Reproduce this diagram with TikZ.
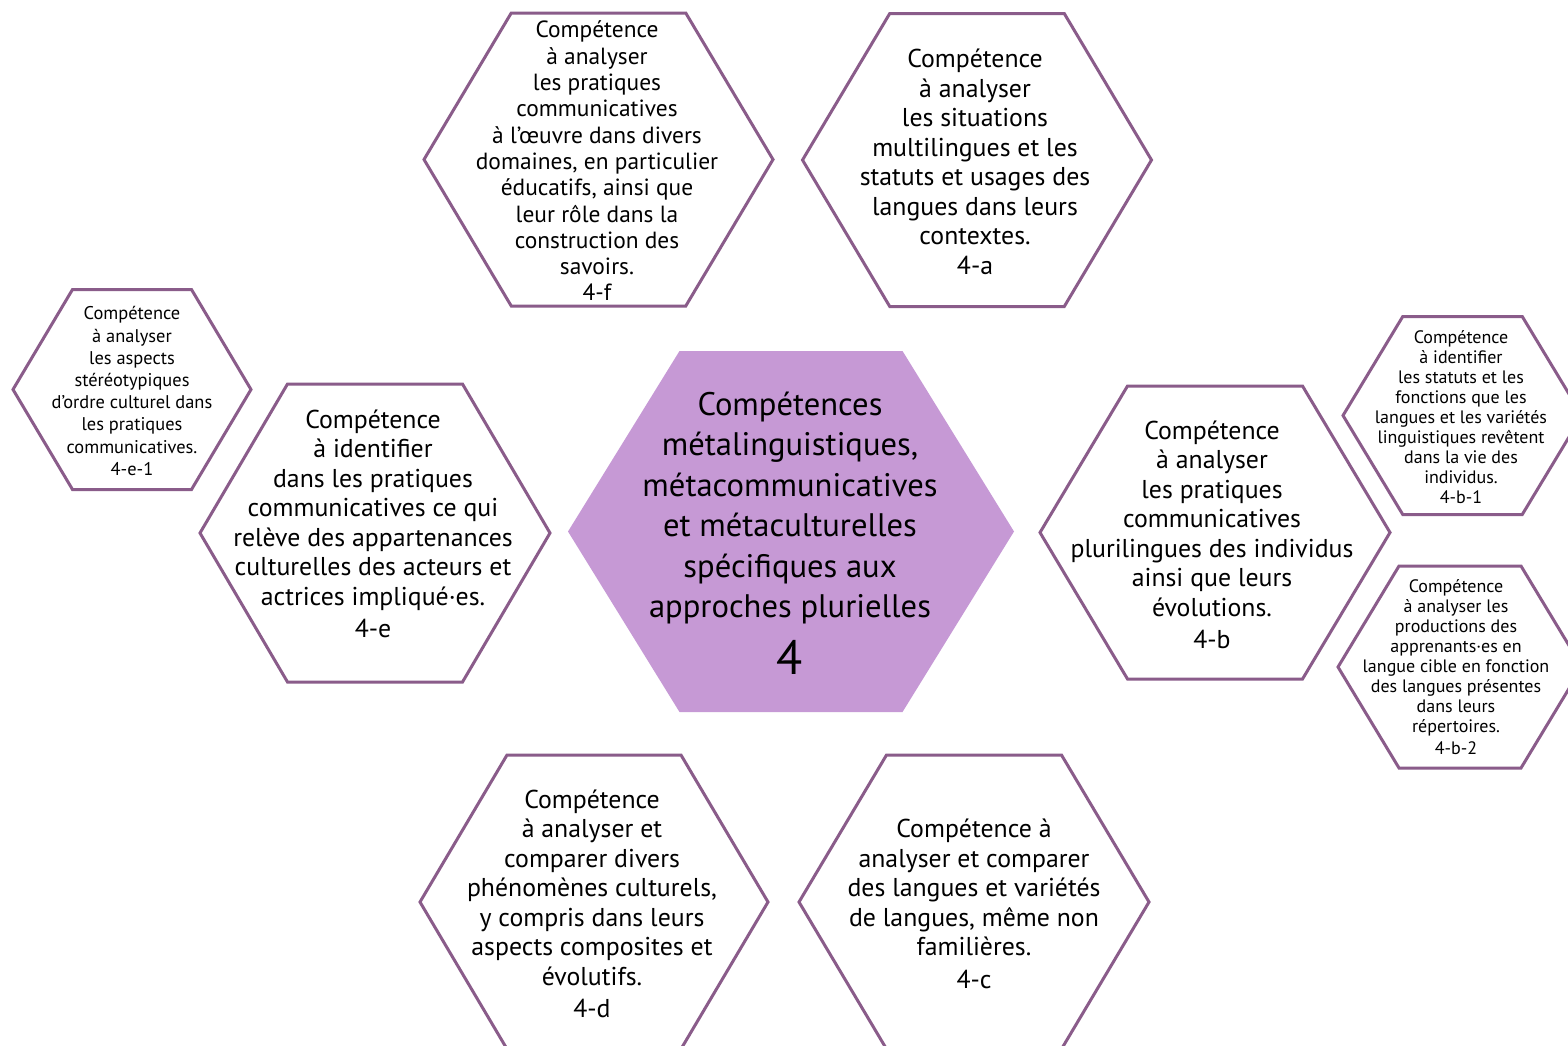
\documentclass[tikz,border=0pt]{standalone}
\usepackage{fontspec}
\setmainfont{PT Sans}
\usetikzlibrary{calc, positioning}

\definecolor{hexpurple}{HTML}{8A5C8A}
\definecolor{hexlilac}{HTML}{C699D5}

% hexagon with flat top and bottom: [style] centre x, centre y, half width, half height
\newcommand{\hexa}[5][hexline]{%
  \path[#1] (#2-#4,#3) -- (#2-#4/2,#3-#5) -- (#2+#4/2,#3-#5)
    -- (#2+#4,#3) -- (#2+#4/2,#3+#5) -- (#2-#4/2,#3+#5) -- cycle;}

\begin{document}
\begin{tikzpicture}[
        x=0.5pt, y=-0.5pt,
        every node/.style={align=center, inner sep=0pt},
        hexline/.style={draw=hexpurple, line width=1.5pt},
        hexcore/.style={fill=hexlilac},
        bigtxt/.style={font=\fontsize{16.3}{20.2}\selectfont},
        midtxt/.style={font=\fontsize{12.9}{14.75}\selectfont},
        ftxt/.style={font=\fontsize{11.7}{13.15}\selectfont},
        smalltxt/.style={font=\fontsize{9.2}{11.1}\selectfont},
        tinytxt/.style={font=\fontsize{9}{10}\selectfont},
    ]
    \useasboundingbox (0,0) rectangle (1568,1045);
    \clip (0,0) rectangle (1568,1045);
    \fill[white] (0,0) rectangle (1568,1045);

    % Hexagons
    \hexa[hexcore]{791}{531.5}{223}{180.5}
    \hexa{598.5}{159.5}{174.5}{146.5}
    \hexa{977}{160}{174.5}{146.5}
    \hexa{375}{533}{175}{149}
    \hexa{1215}{532.5}{175}{146.5}
    \hexa{594}{902}{174}{147}
    \hexa{974}{902}{175}{147}
    \hexa{132}{389.5}{119}{100}
    \hexa{1462.5}{415.5}{119.5}{99}
    \hexa{1460}{667}{122}{101}

    % Texts
    \node[bigtxt] (core) at (790,533) {Compétences\\ métalinguistiques,\\
        métacommunicatives\\ et métaculturelles\\ spécifiques aux\\
        approches plurielles\\[7pt]{\fontsize{24}{25}\selectfont 4}};
    \node[ftxt] (f) at (597,161) {Compétence\\ à analyser\\ les pratiques\\
        communicatives\\ à l’œuvre dans divers\\ domaines, en particulier\\
        éducatifs, ainsi que\\ leur rôle dans la\\ construction des\\ savoirs.\\ 4-f};
    \node[midtxt] (a) at (975,162) {Compétence\\ à analyser\\ les situations\\
        multilingues et les\\ statuts et usages des\\ langues dans leurs\\
        contextes.\\ 4-a};
    \node[midtxt] (e) at (373,524) {Compétence\\ à identifier\\ dans les pratiques\\
        communicatives ce qui\\ relève des appartenances\\
        culturelles des acteurs et\\ actrices impliqué·es.\\[1.5pt] 4-e};
    \node[midtxt] (b) at (1212,535) {Compétence\\ à analyser\\ les pratiques\\
        communicatives\\ plurilingues des individus\\ ainsi que leurs\\
        évolutions.\\[1.5pt] 4-b};
    \node[midtxt] (d) at (592,904) {Compétence\\ à analyser et\\ comparer divers\\
        phénomènes culturels,\\ y compris dans leurs\\ aspects composites et\\
        évolutifs.\\[1.5pt] 4-d};
    \node[midtxt] (c) at (974,904) {Compétence à\\ analyser et comparer\\
        des langues et variétés\\ de langues, même non\\ familières.\\[1.5pt] 4-c};
    \node[smalltxt] (e1) at (132,391) {Compétence\\ à analyser\\ les aspects\\
        stéréotypiques\\ d’ordre culturel dans\\ les pratiques\\
        communicatives.\\ 4-e-1};
    \node[tinytxt] (b1) at (1461,417.5) {Compétence\\ à identifier\\
        les statuts et les\\ fonctions que les\\ langues et les variétés\\
        linguistiques revêtent\\ dans la vie des\\ individus.\\ 4-b-1};
    \node[tinytxt] (b2) at (1456,667.5) {Compétence\\ à analyser les\\
        productions des\\ apprenants·es en\\ langue cible en fonction\\
        des langues présentes\\ dans leurs\\ répertoires.\\[1pt] 4-b-2};
\end{tikzpicture}
\end{document}
